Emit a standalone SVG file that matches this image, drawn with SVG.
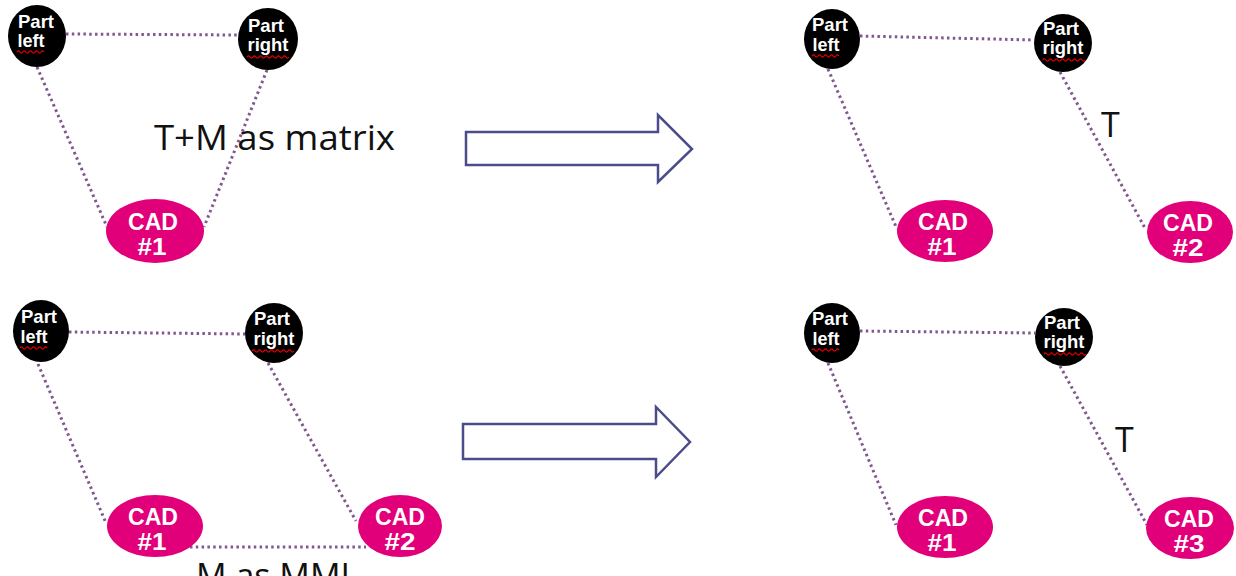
<svg xmlns="http://www.w3.org/2000/svg" width="1236" height="576" viewBox="0 0 1236 576">
<style>
.part{fill:#000}
.cad{fill:#e2007a}
.nt{fill:#fff;font-family:"Liberation Sans Narrow","Liberation Sans",Arial,sans-serif;font-weight:bold;text-anchor:middle}
.pt{font-size:19px}
.ct{font-size:24px}
.sq{fill:none;stroke:#e00000;stroke-width:1.3}
.dot{fill:none;stroke:#80588f;stroke-width:3;stroke-dasharray:2.5 3.3}
.big{fill:#111;font-family:"Open Sans","Noto Sans","Liberation Sans",sans-serif;font-size:34px}
.arr{fill:#fff;stroke:#4b4d8a;stroke-width:2.5;stroke-linejoin:miter}
</style>
<defs>
<path id="sq" d="M0,0 q1.5,-2.2 3,0 t3,0 t3,0 t3,0 t3,0 t3,0 t3,0 t3,0 t3,0"/>
<path id="sqr" d="M0,0 q1.5,-2.2 3,0 t3,0 t3,0 t3,0 t3,0 t3,0 t3,0 t3,0 t3,0 t3,0 t3,0 t3,0 t3,0 t3,0"/>
</defs>
<rect width="1236" height="576" fill="#fff"/>

<g id="connectors">
<!-- diagram 1 -->
<path class="dot" d="M66,34 L238,35"/>
<path class="dot" d="M37,67 L107,227"/>
<path class="dot" d="M267,70 L204,227"/>
<!-- diagram 2 -->
<path class="dot" d="M860,36 L1034,40"/>
<path class="dot" d="M828,69 L897,229"/>
<path class="dot" d="M1060,72 L1146,230"/>
<!-- diagram 3 -->
<path class="dot" d="M69,332 L245,334"/>
<path class="dot" d="M38,364 L106,523"/>
<path class="dot" d="M268,363 L356,521"/>
<path class="dot" d="M190,547 L366,547"/>
<!-- diagram 4 -->
<path class="dot" d="M860,331 L1035,333"/>
<path class="dot" d="M828,363 L896,525"/>
<path class="dot" d="M1060,366 L1147,525"/>
</g>

<g id="arrow-top"><path class="arr" d="M466,132 H658 V115 L692,149 L658,182 V165 H466 Z"/></g>
<g id="arrow-bottom"><path class="arr" d="M463,424 H656 V407 L690,442 L656,477 V459 H463 Z"/></g>

<!-- Diagram 1 -->
<g id="d1-part-left">
<ellipse class="part" cx="37" cy="36" rx="29" ry="31"/>
<text class="nt pt" x="36" y="28" textLength="36" lengthAdjust="spacingAndGlyphs">Part</text>
<text class="nt pt" x="31" y="47" textLength="27" lengthAdjust="spacingAndGlyphs">left</text>
<use href="#sq" class="sq" x="17" y="52"/>
</g>
<g id="d1-part-right">
<ellipse class="part" cx="268" cy="39" rx="30" ry="31"/>
<text class="nt pt" x="266" y="32" textLength="36" lengthAdjust="spacingAndGlyphs">Part</text>
<text class="nt pt" x="268" y="51" textLength="41" lengthAdjust="spacingAndGlyphs">right</text>
<use href="#sqr" class="sq" x="247" y="57"/>
</g>
<g id="d1-cad1">
<ellipse class="cad" cx="155" cy="231" rx="49" ry="32"/>
<text class="nt ct" x="153" y="230" textLength="50" lengthAdjust="spacingAndGlyphs">CAD</text>
<text class="nt ct" x="152" y="255" textLength="29" lengthAdjust="spacingAndGlyphs">#1</text>
</g>
<text id="label-tm" class="big" x="154" y="150" textLength="241" lengthAdjust="spacingAndGlyphs">T+M as matrix</text>

<!-- Diagram 2 -->
<g id="d2-part-left">
<ellipse class="part" cx="832" cy="39" rx="28" ry="30"/>
<text class="nt pt" x="830" y="31" textLength="36" lengthAdjust="spacingAndGlyphs">Part</text>
<text class="nt pt" x="826" y="51" textLength="27" lengthAdjust="spacingAndGlyphs">left</text>
<use href="#sq" class="sq" x="812" y="56"/>
</g>
<g id="d2-part-right">
<ellipse class="part" cx="1063" cy="43" rx="29" ry="29"/>
<text class="nt pt" x="1061" y="35" textLength="36" lengthAdjust="spacingAndGlyphs">Part</text>
<text class="nt pt" x="1063" y="54" textLength="41" lengthAdjust="spacingAndGlyphs">right</text>
<use href="#sqr" class="sq" x="1043" y="60"/>
</g>
<g id="d2-cad1">
<ellipse class="cad" cx="945" cy="231" rx="48" ry="31"/>
<text class="nt ct" x="943" y="230" textLength="50" lengthAdjust="spacingAndGlyphs">CAD</text>
<text class="nt ct" x="942" y="255" textLength="29" lengthAdjust="spacingAndGlyphs">#1</text>
</g>
<g id="d2-cad2">
<ellipse class="cad" cx="1190" cy="232" rx="43" ry="31"/>
<text class="nt ct" x="1188" y="231" textLength="50" lengthAdjust="spacingAndGlyphs">CAD</text>
<text class="nt ct" x="1188" y="256" textLength="31" lengthAdjust="spacingAndGlyphs">#2</text>
</g>
<text id="label-t1" class="big" x="1101" y="137">T</text>

<!-- Diagram 3 -->
<g id="d3-part-left">
<ellipse class="part" cx="41" cy="331" rx="28" ry="31"/>
<text class="nt pt" x="39" y="323" textLength="36" lengthAdjust="spacingAndGlyphs">Part</text>
<text class="nt pt" x="34" y="343" textLength="27" lengthAdjust="spacingAndGlyphs">left</text>
<use href="#sq" class="sq" x="20" y="348"/>
</g>
<g id="d3-part-right">
<ellipse class="part" cx="274" cy="333" rx="29" ry="30"/>
<text class="nt pt" x="272" y="325" textLength="36" lengthAdjust="spacingAndGlyphs">Part</text>
<text class="nt pt" x="274" y="345" textLength="41" lengthAdjust="spacingAndGlyphs">right</text>
<use href="#sqr" class="sq" x="252" y="351"/>
</g>
<g id="d3-cad1">
<ellipse class="cad" cx="155" cy="526" rx="48" ry="31"/>
<text class="nt ct" x="153" y="525" textLength="50" lengthAdjust="spacingAndGlyphs">CAD</text>
<text class="nt ct" x="152" y="550" textLength="29" lengthAdjust="spacingAndGlyphs">#1</text>
</g>
<g id="d3-cad2">
<ellipse class="cad" cx="400" cy="526" rx="42" ry="31"/>
<text class="nt ct" x="400" y="525" textLength="50" lengthAdjust="spacingAndGlyphs">CAD</text>
<text class="nt ct" x="400" y="550" textLength="31" lengthAdjust="spacingAndGlyphs">#2</text>
</g>
<text id="label-mmi" class="big" x="196" y="588">M as MMI</text>

<!-- Diagram 4 -->
<g id="d4-part-left">
<ellipse class="part" cx="832" cy="333" rx="28" ry="30"/>
<text class="nt pt" x="830" y="325" textLength="36" lengthAdjust="spacingAndGlyphs">Part</text>
<text class="nt pt" x="826" y="345" textLength="27" lengthAdjust="spacingAndGlyphs">left</text>
<use href="#sq" class="sq" x="812" y="350"/>
</g>
<g id="d4-part-right">
<ellipse class="part" cx="1064" cy="337" rx="29" ry="29"/>
<text class="nt pt" x="1062" y="329" textLength="36" lengthAdjust="spacingAndGlyphs">Part</text>
<text class="nt pt" x="1064" y="348" textLength="41" lengthAdjust="spacingAndGlyphs">right</text>
<use href="#sqr" class="sq" x="1044" y="354"/>
</g>
<g id="d4-cad1">
<ellipse class="cad" cx="945" cy="527" rx="48" ry="31"/>
<text class="nt ct" x="943" y="526" textLength="50" lengthAdjust="spacingAndGlyphs">CAD</text>
<text class="nt ct" x="942" y="551" textLength="29" lengthAdjust="spacingAndGlyphs">#1</text>
</g>
<g id="d4-cad3">
<ellipse class="cad" cx="1190" cy="528" rx="44" ry="31"/>
<text class="nt ct" x="1189" y="527" textLength="50" lengthAdjust="spacingAndGlyphs">CAD</text>
<text class="nt ct" x="1189" y="552" textLength="31" lengthAdjust="spacingAndGlyphs">#3</text>
</g>
<text id="label-t2" class="big" x="1115" y="452">T</text>
</svg>
